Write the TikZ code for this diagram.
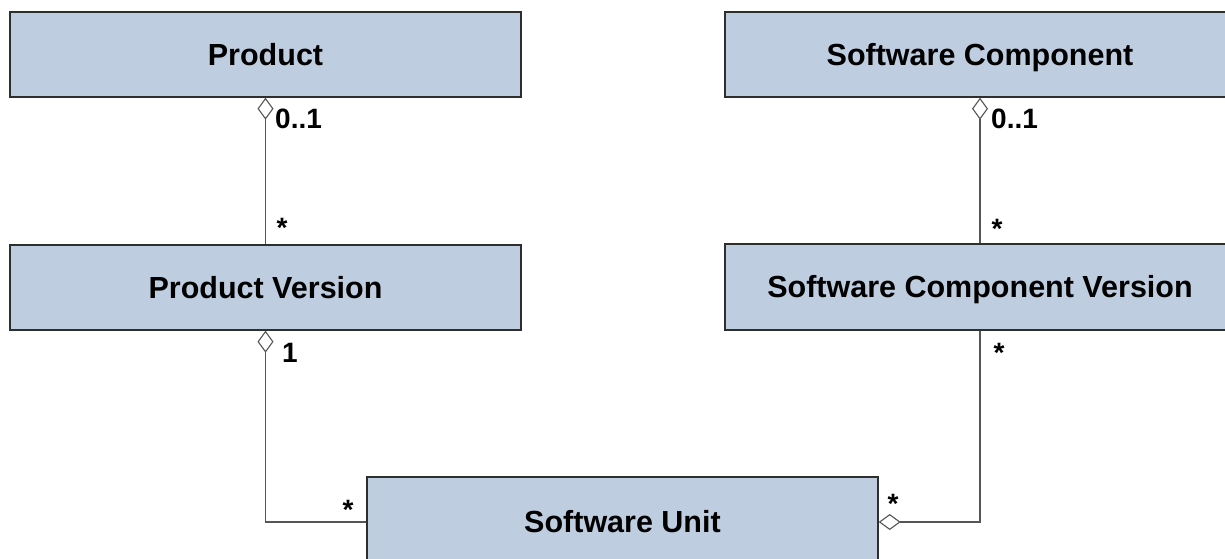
\documentclass[tikz,border=0pt]{standalone}
\usepackage{fontspec}
\setmainfont{Liberation Sans}
\usetikzlibrary{arrows.meta}
\definecolor{boxfill}{HTML}{BFCDE0}
\definecolor{boxline}{HTML}{2E2E2E}
\definecolor{conn}{HTML}{555555}
\tikzset{
  classbox/.style={draw=boxline, line width=1.4pt, fill=boxfill, minimum height=85pt, inner sep=0pt,
    text height=21.5pt, text depth=0pt,
    font=\fontsize{30.5}{36}\selectfont\bfseries, text=black},
  assoc/.style={draw=conn, line width=1.3pt},
  agg/.tip={Diamond[open, fill=white, length=22pt, width=16pt, line width=1.1pt]},
  mult/.style={inner sep=0pt, anchor=base west, font=\fontsize{28}{32}\selectfont\bfseries},
  star/.style={inner sep=0pt, anchor=base, font=\fontsize{28}{32}\selectfont\bfseries},
}
\begin{document}
\begin{tikzpicture}[x=1pt, y=-1pt]
\useasboundingbox (0,0) rectangle (1225,558);
\node[classbox, minimum width=511pt] (prod) at (265.5,54.5) {Product};
\node[classbox, minimum width=511pt] (pv) at (265.5,287.5) {Product Version};
\node[classbox, minimum width=510pt] (sc) at (980,54.5) {Software Component};
\node[classbox, minimum width=510pt, minimum height=86pt] (scv) at (980,287) {Software Component Version};
\node[classbox, minimum width=511pt, minimum height=90pt] (su) at (622.5,522) {Software Unit};

\draw[assoc, {agg}-] (prod.south) -- (pv.north);
\draw[assoc, {agg}-] (sc.south) -- (scv.north);
\draw[assoc, {agg}-] (pv.south) |- (su.west);
\draw[assoc, -{agg}] (scv.south) |- (su.east);

\node[mult] (m1) at (275,128) {0..1};
\node[mult] (m2) at (991,128) {0..1};
\node[mult] (m3) at (282,362) {1};
\node[star] (s1) at (282,237) {*};
\node[star] (s2) at (997,238) {*};
\node[star] (s3) at (999,362) {*};
\node[star] (s4) at (348,519) {*};
\node[star] (s5) at (893,513) {*};
\end{tikzpicture}
\end{document}
